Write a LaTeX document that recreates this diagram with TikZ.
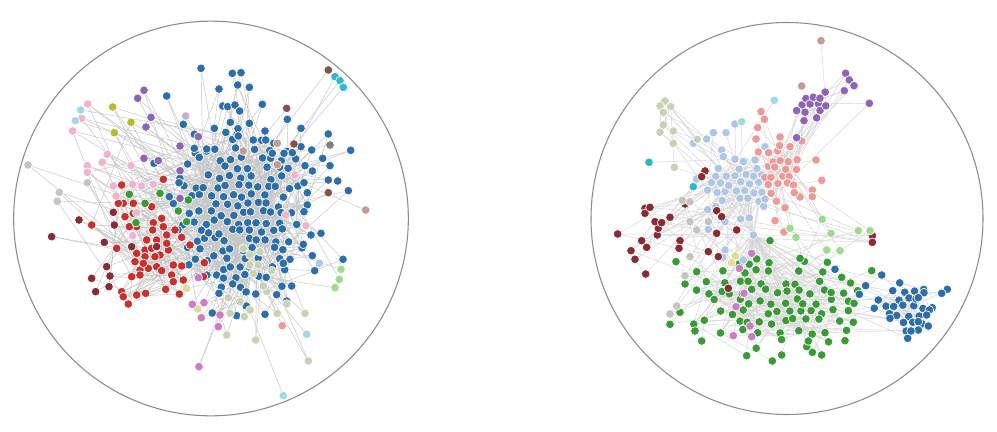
\documentclass[tikz,border=0pt]{standalone}
\usepackage{xcolor}
\definecolor{cblue}{HTML}{2C6EAB}
\definecolor{cred}{HTML}{C9302C}
\definecolor{cmaroon}{HTML}{8A2A33}
\definecolor{cgreen}{HTML}{3A9A35}
\definecolor{cpink}{HTML}{F0B4CD}
\definecolor{cpurple}{HTML}{8E64B8}
\definecolor{clpurple}{HTML}{C5B0D5}
\definecolor{colive}{HTML}{B8BA2A}
\definecolor{clyellow}{HTML}{DEDC95}
\definecolor{cgray}{HTML}{C4C4C4}
\definecolor{csage}{HTML}{C8D2B4}
\definecolor{corchid}{HTML}{CE7BC6}
\definecolor{clcyan}{HTML}{A3D9E3}
\definecolor{cteal}{HTML}{2FB8CB}
\definecolor{csalmon}{HTML}{EC9A98}
\definecolor{clgreen}{HTML}{9FDA8E}
\definecolor{cbrown}{HTML}{85514A}
\definecolor{crosy}{HTML}{C29C95}
\definecolor{cdgray}{HTML}{7F7F7F}
\definecolor{clblue}{HTML}{B0C6E6}
\definecolor{cedge}{HTML}{C6C6C6}
\definecolor{cedgeR}{HTML}{D6D6D6}
\definecolor{cring}{HTML}{8C8C8C}

\newcount\gcnt
% explicit point set: name, list of x/y
\newcommand\ptset[2]{%
  \foreach \x/\y [count=\n] in {#2}{\coordinate (#1\n) at (\x,\y);\xdef\lastcnt{\n}}%
  \expandafter\xdef\csname cnt#1\endcsname{\lastcnt}}
% jittered hex grid inside an ellipse: name, cx, cy, rx, ry, step, keep, jitter, range
\newcommand\gridset[9]{%
  \global\gcnt=0
  \foreach \a in {-#9,...,#9}{\foreach \b in {-#9,...,#9}{%
    \pgfmathsetmacro\px{#2+(\a+0.5*mod(\b,2))*#6+#8*rand}%
    \pgfmathsetmacro\py{#3+\b*#6*0.87+#8*rand}%
    \pgfmathsetmacro\myu{(\px-#2)/#4}%
    \pgfmathsetmacro\myv{(\py-#3)/#5}%
    \pgfmathsetmacro\rr{\myu*\myu+\myv*\myv}%
    \pgfmathtruncatemacro\ok{(\rr<1)*(rnd<#7*(1.3-\rr))}%
    \ifnum\ok=1 \global\advance\gcnt by 1 \edef\nm{\the\gcnt}\coordinate (#1\nm) at (\px,\py);\fi}}%
  \expandafter\xdef\csname cnt#1\endcsname{\the\gcnt}}
% random links: from set, to set, links per node, style
\newcommand\linkset[4]{%
  \edef\tmpn{\csname cnt#1\endcsname}\edef\tmpm{\csname cnt#2\endcsname}%
  \foreach \n in {1,...,\tmpn}{\foreach \r in {1,...,#3}{%
    \pgfmathrandominteger{\j}{1}{\tmpm}\draw[#4] (#1\n) -- (#2\j);}}}
% links to a hub: set, hub, every k-th, style
\newcommand\linkhub[4]{%
  \edef\tmpn{\csname cnt#1\endcsname}%
  \foreach \n in {1,...,\tmpn}{\pgfmathtruncatemacro\m{mod(\n,#3)}%
    \ifnum\m=0 \draw[#4] (#1\n) -- (#2);\fi}}
% dots
\newcommand\drawset[2]{%
  \edef\tmpn{\csname cnt#1\endcsname}%
  \foreach \n in {1,...,\tmpn}{\node[netdot,fill=#2] (d#1\n) at (#1\n) {};}}

\tikzset{
  netdot/.style={circle,inner sep=0pt,minimum size=6.5pt,draw=white,line width=0.5pt},
  edgeL/.style={draw=cedge,line width=0.35pt},
  edgeR/.style={draw=cedgeR,line width=0.35pt},
  ring/.style={circle,draw=cring,line width=0.8pt,inner sep=0pt}
}

\begin{document}
\begin{tikzpicture}[x=0.75pt,y=-0.75pt]
\useasboundingbox (0,0) rectangle (997,432);
\fill[white] (0,0) rectangle (997,432);
\pgfmathsetseed{11}

% ---------------- left graph coordinates (zoom units /3) ----------------
\begin{scope}[scale=1/3]
\gridset{LC}{725}{640}{215}{265}{31}{0.78}{8}{10}
\ptset{LBP}{603/205,697/220,723/218,713/255,748/262,657/267,500/288,668/318,683/320,705/315,719/333,787/313,862/358,903/385,985/402,1052/451,1045/572,963/700,933/705,937/767,1029/778,944/812,875/858,860/903,830/884,795/943,739/918,710/947,637/939,657/880,550/373,583/403,643/385,691/367,748/370,714/386,715/408,795/393,760/420,797/420,935/450,968/475,990/497,915/497,937/513,985/540,1013/543,912/548,922/578,912/635,910/733,870/778,850/790,462/490,563/492,537/548,508/590,620/447,583/445,877/458,852/460,903/440,817/460}
\ptset{LR}{365/555,370/610,400/610,455/620,275/675,490/538,485/655,460/668,458/690,490/680,525/690,545/712,500/705,570/735,410/680,388/680,350/745,435/750,455/745,480/765,505/750,410/760,405/785,435/770,470/800,520/795,545/798,445/805,420/810,485/812,515/825,395/830,420/825,520/845,550/840,365/875,370/890,385/912,410/885,437/880,497/868,538/882,610/830,613/788,465/770,430/790,440/720,470/720,500/730,375/650,355/610,400/640}
\ptset{LDR}{237/660,155/710,275/835,287/875,320/800,330/828,327/860,313/727,343/675,340/637,395/740,470/740}
\ptset{LG}{388/583,435/610,480/580,565/600,535/633,560/665,408/668}
\ptset{LPK}{263/312,245/355,218/393,322/463,307/487,262/497,262/517,393/497,340/558,348/588,397/553,425/558,460/553,410/638,398/707,918/677,857/645,885/525}
\ptset{LLC}{242/330,226/362,920/1003,850/1187}
\ptset{LLB}{958/790}
\ptset{LOL}{338/321,393/367,343/398}
\ptset{LPU}{432/271,413/295,453/352,438/381,432/475,475/482,540/438,540/512,595/410,540/595}
\ptset{LLP}{557/348}
\ptset{LGR}{84/495,262/548,178/577,172/604}
\ptset{LSG}{730/745,750/765,780/755,750/795,775/795,760/820,815/812,800/875,790/858,685/893,720/905,690/940,733/950,750/930,680/1005,767/1020,860/912,832/940,915/940,925/1083}
\ptset{LLY}{560/865,593/927}
\ptset{LOR}{595/833,577/913,612/908,604/953,660/945,655/980,597/1100}
\ptset{LSA}{847/977}
\ptset{LLG}{1023/808,1018/838,1005/863}
\ptset{LBR}{985/210,860/325,882/432,985/578}
\ptset{LTE}{1005/230,1020/242,1030/262}
\ptset{LRB}{832/430,832/494,1097/630,730/453}
\ptset{LDG}{990/435}
\end{scope}

% ---------------- right graph coordinates ----------------
\begin{scope}[shift={(580,0)},scale=1/3]
\gridset{RG}{575}{905}{300}{155}{34}{0.72}{9}{10}
\ptset{RGP}{570/722,660/775,742/787,785/832,875/812,822/910,805/932,795/1022,725/1065,697/1057,680/1040,685/1023,605/1065,577/1083,500/1067,365/1023,345/993,270/973,300/937,288/785,315/852,350/815,530/777}
\gridset{RL}{465}{575}{100}{100}{28}{0.7}{6}{5}
\ptset{RLP}{340/430,380/417,400/398,438/398,465/372,425/450,430/470,415/505,350/537,555/440,525/480,490/485,555/597,435/665,482/657,410/698,435/750,428/772,490/780,385/688}
\ptset{RHUB}{520/705}
\gridset{RS}{590}{505}{75}{100}{27}{0.7}{6}{6}
\ptset{RSP}{543/335,553/358,533/383,528/417,600/411,708/480,725/541,697/570,697/590,660/591,643/578,615/623,585/662,612/696,665/423,630/440}
\gridset{RP}{712}{315}{58}{48}{23}{0.72}{4}{4}
\ptset{RPP}{797/220,808/240,822/257,793/272,868/310,650/332,672/362,650/413}
\gridset{RB}{970}{920}{90}{75}{28}{0.8}{6}{5}
\ptset{RBP}{1102/868,1085/880,1032/878,1015/893,1048/930,1040/945,1015/965,1045/978,1015/990,993/993,983/1015,930/955,857/857,838/883,905/825,765/808,895/900}
\ptset{RSG}{255/303,240/318,272/320,250/337,250/375,240/397,280/393,280/430,352/418,283/502}
\ptset{RTE}{207/487,340/560}
\ptset{RLC}{583/301,485/365}
\ptset{RRB}{723/122,665/258}
\ptset{RDR}{113/702,153/752,165/778,197/822,185/722,200/742,232/705,235/685,225/665,245/668,195/625,195/640,210/622,270/652,300/722,297/745,315/612,375/513,365/530,410/632,470/690,410/700,415/770,425/650,385/755,445/865,877/707,877/727}
\ptset{RGR}{307/601,330/605,330/665,350/690,385/665,330/770,315/827,290/918,270/942}
\ptset{RLG}{727/658,630/685,648/712,753/700,835/692,870/692,740/750,780/752}
\ptset{ROR}{515/760,478/805,492/880,468/920,510/978,515/1010,460/1007}
\ptset{RLY}{466/768,455/788}
\end{scope}

% ---------------- edges ----------------
\linkset{LC}{LC}{3}{edgeL}
\linkset{LBP}{LC}{2}{edgeL}
\linkset{LR}{LR}{2}{edgeL}
\linkset{LR}{LC}{1}{edgeL}
\linkset{LDR}{LR}{2}{edgeL}
\linkset{LG}{LC}{2}{edgeL}
\linkset{LPK}{LC}{2}{edgeL}
\linkset{LPK}{LR}{1}{edgeL}
\linkset{LLC}{LC}{1}{edgeL}
\linkset{LLB}{LC}{1}{edgeL}
\linkset{LOL}{LR}{2}{edgeL}
\linkset{LOL}{LC}{1}{edgeL}
\linkset{LPU}{LC}{2}{edgeL}
\linkset{LLP}{LC}{1}{edgeL}
\linkset{LGR}{LR}{2}{edgeL}
\linkset{LSG}{LC}{2}{edgeL}
\linkset{LLY}{LC}{1}{edgeL}
\linkset{LOR}{LC}{1}{edgeL}
\linkset{LOR}{LSG}{1}{edgeL}
\linkset{LSA}{LC}{1}{edgeL}
\linkset{LLG}{LC}{1}{edgeL}
\linkset{LBR}{LC}{1}{edgeL}
\linkset{LTE}{LC}{1}{edgeL}
\linkset{LRB}{LC}{1}{edgeL}
\linkset{LDG}{LC}{1}{edgeL}

\linkset{RG}{RG}{2}{edgeR}
\linkhub{RG}{RHUB1}{2}{edgeR}
\linkset{RGP}{RG}{1}{edgeR}
\linkhub{RGP}{RHUB1}{3}{edgeR}
\linkset{RB}{RB}{2}{edgeR}
\linkset{RBP}{RB}{1}{edgeR}
\linkset{RBP}{RG}{1}{edgeR}
\linkset{RL}{RL}{2}{edgeR}
\linkhub{RL}{RHUB1}{2}{edgeR}
\linkset{RLP}{RL}{1}{edgeR}
\linkset{RS}{RS}{2}{edgeR}
\linkset{RSP}{RS}{1}{edgeR}
\linkset{RS}{RL}{1}{edgeR}
\linkset{RP}{RP}{2}{edgeR}
\linkset{RPP}{RP}{1}{edgeR}
\linkset{RPP}{RS}{1}{edgeR}
\linkset{RP}{RS}{1}{edgeR}
\linkset{RSG}{RL}{1}{edgeR}
\linkset{RSG}{RSG}{1}{edgeR}
\linkset{RTE}{RL}{1}{edgeR}
\linkset{RLC}{RL}{1}{edgeR}
\linkset{RRB}{RP}{1}{edgeR}
\linkset{RDR}{RDR}{1}{edgeR}
\linkset{RDR}{RL}{1}{edgeR}
\linkset{RGR}{RL}{1}{edgeR}
\linkset{RGR}{RG}{1}{edgeR}
\linkset{RLG}{RS}{1}{edgeR}
\linkset{RLG}{RG}{1}{edgeR}
\linkset{ROR}{RG}{1}{edgeR}
\linkhub{ROR}{RHUB1}{1}{edgeR}
\linkset{RLY}{RL}{1}{edgeR}

% ---------------- rings ----------------
\node[ring,minimum size=296pt] (leftring) at (211,218.5) {};
\node[ring,minimum size=294pt] (rightring) at (787,218.5) {};

% ---------------- dots ----------------
\drawset{LC}{cblue}
\drawset{LBP}{cblue}
\drawset{LR}{cred}
\drawset{LDR}{cmaroon}
\drawset{LG}{cgreen}
\drawset{LPK}{cpink}
\drawset{LLC}{clcyan}
\drawset{LLB}{clblue}
\drawset{LOL}{colive}
\drawset{LPU}{cpurple}
\drawset{LLP}{clpurple}
\drawset{LGR}{cgray}
\drawset{LSG}{csage}
\drawset{LLY}{clyellow}
\drawset{LOR}{corchid}
\drawset{LSA}{csalmon}
\drawset{LLG}{clgreen}
\drawset{LBR}{cbrown}
\drawset{LTE}{cteal}
\drawset{LRB}{crosy}
\drawset{LDG}{cdgray}

\drawset{RG}{cgreen}
\drawset{RGP}{cgreen}
\drawset{RB}{cblue}
\drawset{RBP}{cblue}
\drawset{RL}{clblue}
\drawset{RLP}{clblue}
\drawset{RHUB}{clblue}
\drawset{RS}{csalmon}
\drawset{RSP}{csalmon}
\drawset{RP}{cpurple}
\drawset{RPP}{cpurple}
\drawset{RSG}{csage}
\drawset{RTE}{cteal}
\drawset{RLC}{clcyan}
\drawset{RRB}{crosy}
\drawset{RDR}{cmaroon}
\drawset{RGR}{cgray}
\drawset{RLG}{clgreen}
\drawset{ROR}{corchid}
\drawset{RLY}{clyellow}
\end{tikzpicture}
\end{document}
